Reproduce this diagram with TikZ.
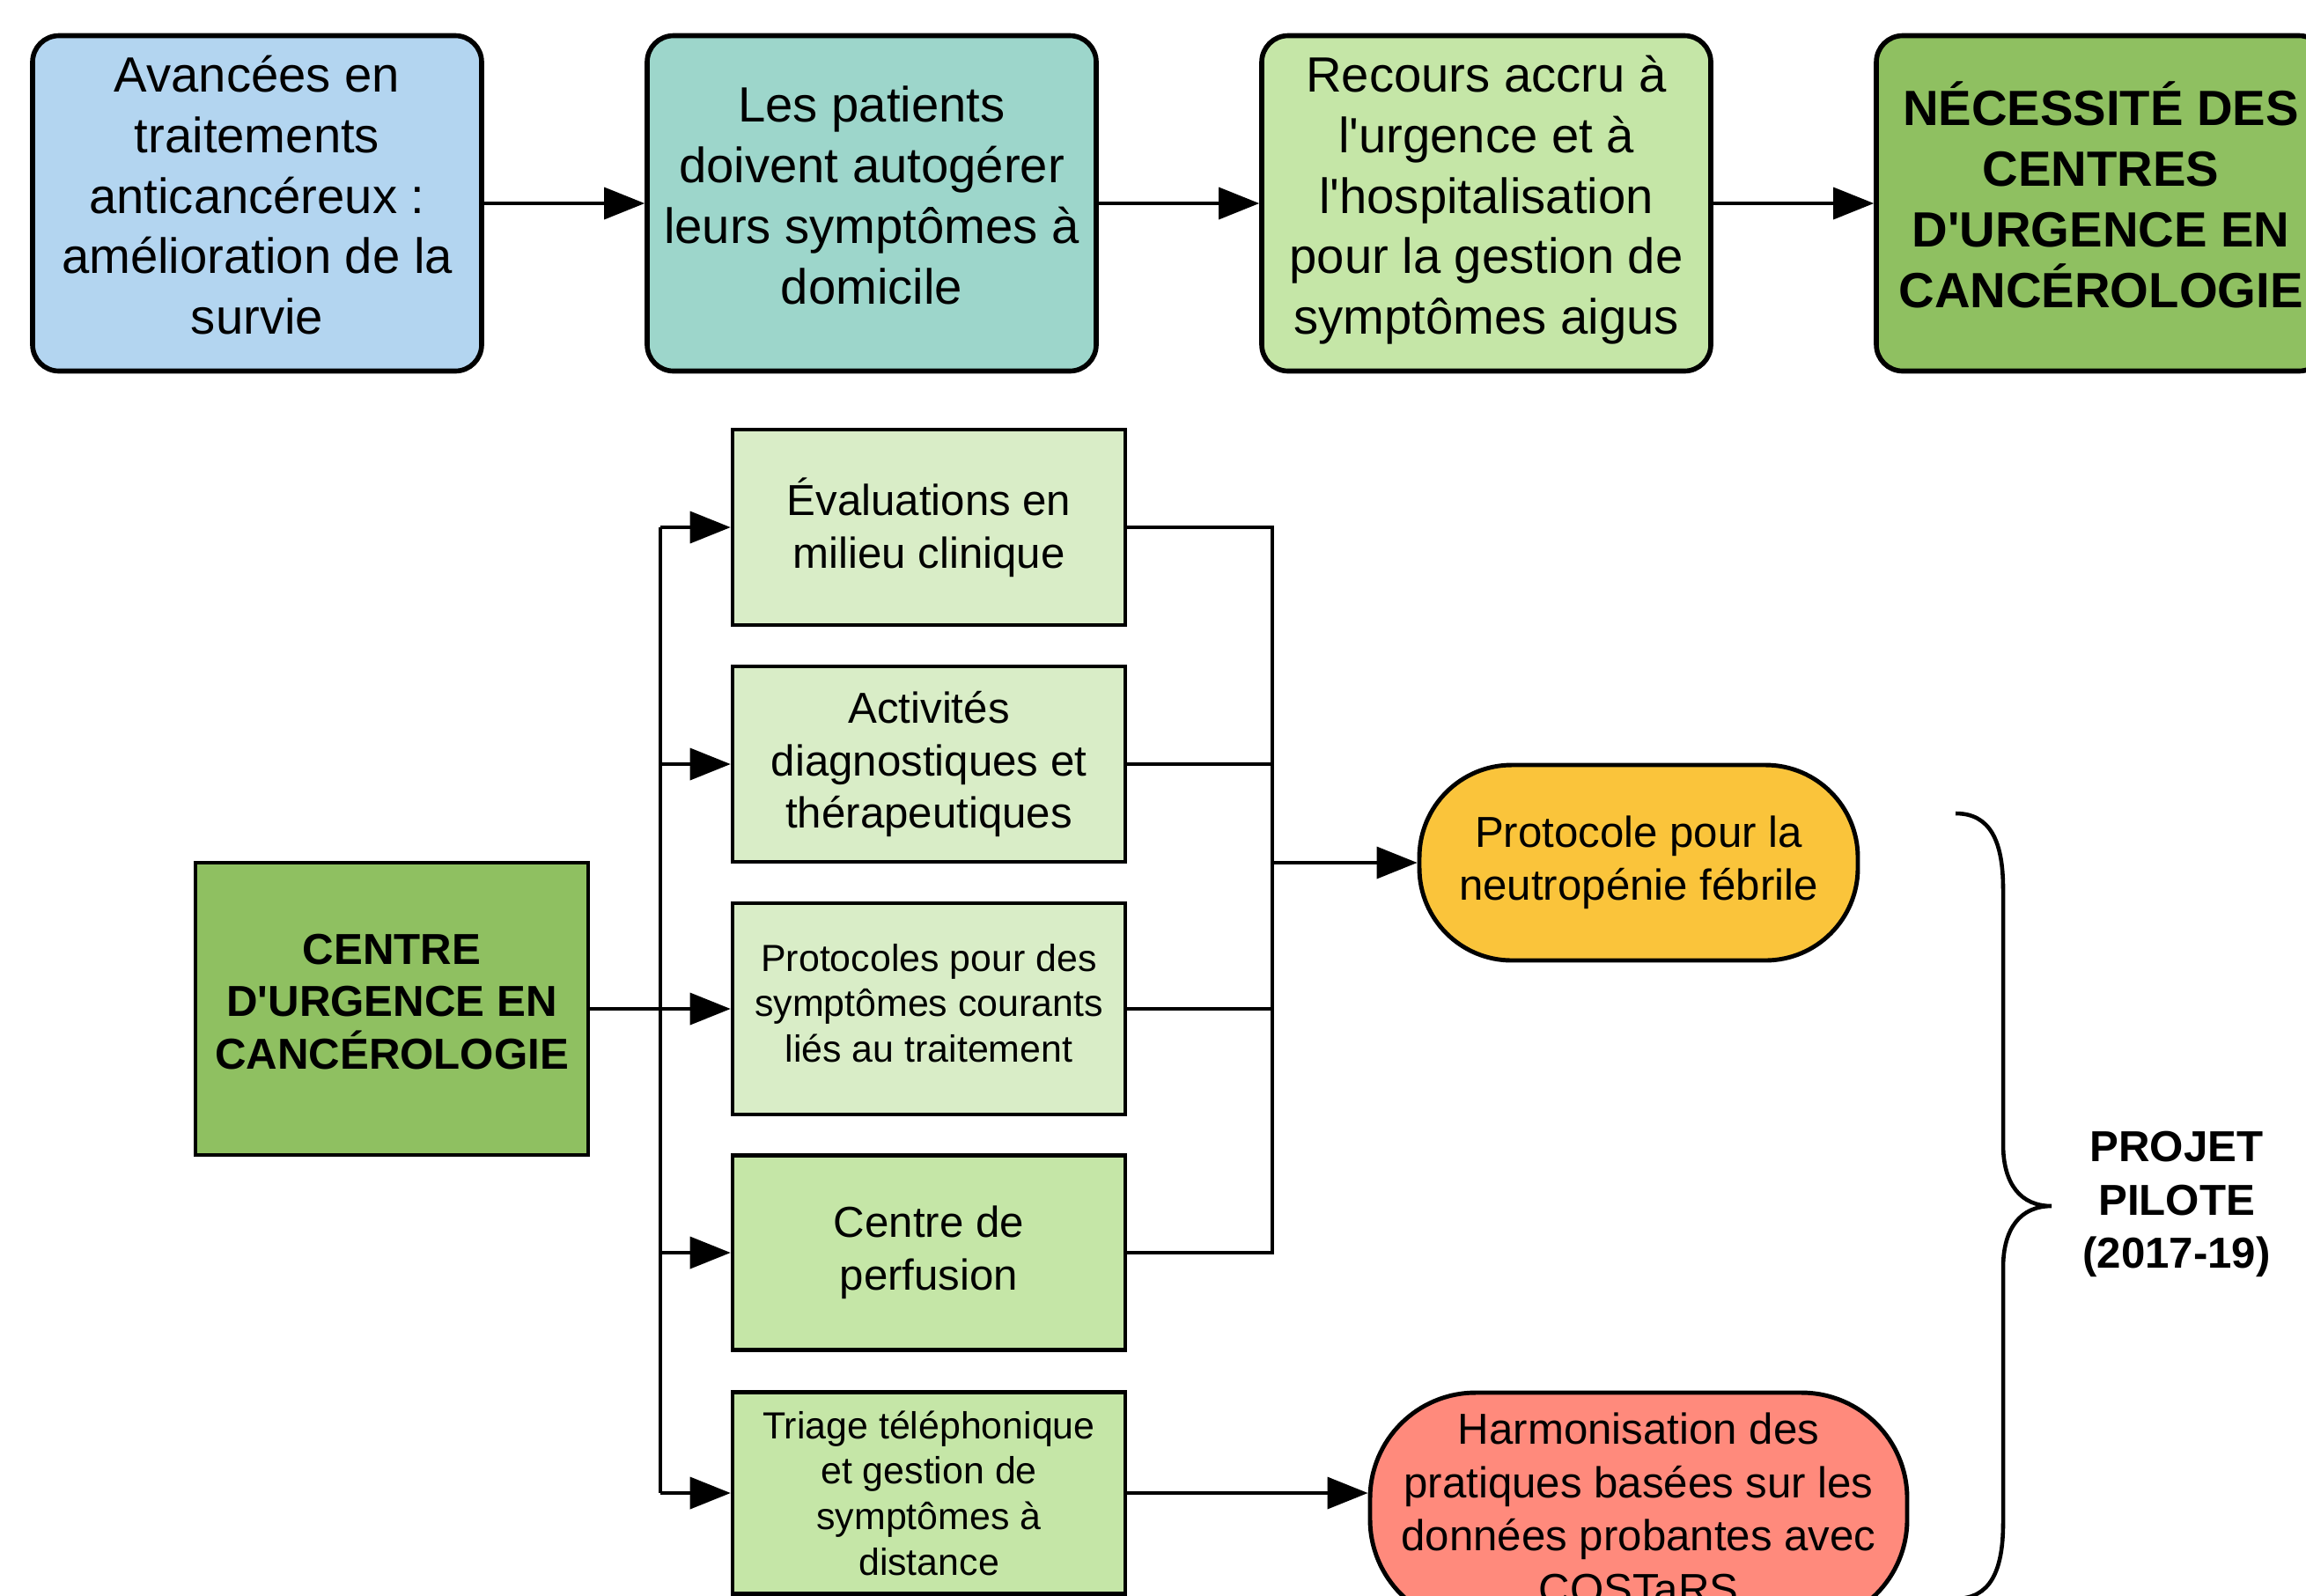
\documentclass[tikz,border=0pt]{standalone}
\usepackage{fontspec}
\setmainfont{Liberation Sans}
\usetikzlibrary{arrows.meta}
\definecolor{bleu}{HTML}{B3D5F0}
\definecolor{sarcelle}{HTML}{9DD6CB}
\definecolor{vertclair}{HTML}{C5E6A7}
\definecolor{vertpale}{HTML}{D9EDC7}
\definecolor{vertfonce}{HTML}{8FC061}
\definecolor{jaune}{HTML}{FAC43B}
\definecolor{saumon}{HTML}{FF8A7C}
\def\ap{\textquotesingle}

\begin{document}
\begin{tikzpicture}[
	etape/.style={draw, line width=1.6pt, rounded corners=0.3cm, minimum width=5.1cm, minimum height=3.81cm, inner sep=0pt, text depth=5.5pt, align=center, font=\fontsize{16}{19.6}\selectfont},
	volet/.style={draw, line width=1.3pt, minimum width=4.46cm, inner sep=0pt, align=center, font=\fontsize{14}{17}\selectfont},
	petit/.style={font=\fontsize{12.2}{14.7}\selectfont},
	issue/.style={draw, line width=1.4pt, inner sep=0pt, align=center, font=\fontsize{14}{17.2}\selectfont},
	lien/.style={line width=1pt},
	fleche/.style={line width=1pt, -{Triangle[length=0.46cm, width=0.36cm]}}
	]
			%%%%% START %%%%%
			
			\path[use as bounding box] (0, 0) rectangle (26.19, -18.12);
			\clip (0, 0) rectangle (26.19, -18.12);
			
			\node[etape, fill=bleu] (avancees) at (2.92, -2.31) {Avancées en\\traitements\\anticancéreux :\\amélioration de la\\survie};
			\node[etape, fill=sarcelle] (patients) at (9.90, -2.31) {Les patients\\doivent autogérer\\leurs symptômes à\\domicile};
			\node[etape, fill=vertclair] (recours) at (16.88, -2.31) {Recours accru à\\l\ap urgence et à\\l\ap hospitalisation\\pour la gestion de\\symptômes aigus};
			\node[etape, fill=vertfonce, font=\bfseries\fontsize{16}{19.6}\selectfont] (necessite) at (23.86, -2.31) {NÉCESSITÉ DES\\CENTRES\\D\ap URGENCE EN\\CANCÉROLOGIE};
			
			\draw[fleche] (avancees) -- (patients);
			\draw[fleche] (patients) -- (recours);
			\draw[fleche] (recours) -- (necessite);
			
			\node[volet, fill=vertfonce, minimum width=4.46cm, minimum height=3.32cm, text depth=4.8pt, font=\bfseries\fontsize{14}{17}\selectfont] (centre) at (4.45, -11.46) {CENTRE\\D\ap URGENCE EN\\CANCÉROLOGIE};
			
			\node[volet, fill=vertpale, minimum height=2.22cm] (evaluations) at (10.55, -5.99) {Évaluations en\\milieu clinique};
			\node[volet, fill=vertpale, minimum height=2.22cm] (activites) at (10.55, -8.68) {Activités\\diagnostiques et\\thérapeutiques};
			\node[volet, petit, fill=vertpale, minimum height=2.40cm, text depth=3.8pt] (protocoles) at (10.55, -11.46) {Protocoles pour des\\symptômes courants\\liés au traitement};
			\node[volet, fill=vertclair, minimum height=2.21cm] (perfusion) at (10.55, -14.23) {Centre de\\perfusion};
			\node[volet, petit, fill=vertclair, minimum height=2.29cm] (triage) at (10.55, -16.96) {Triage téléphonique\\et gestion de\\symptômes à\\distance};
			
			\node[issue, fill=jaune, minimum width=4.98cm, minimum height=2.22cm, rounded corners=1.05cm] (neutropenie) at (18.61, -9.80) {Protocole pour la\\neutropénie fébrile};
			\node[issue, fill=saumon, minimum width=6.10cm, minimum height=2.64cm, rounded corners=1.2cm] (costars) at (18.61, -17.14) {Harmonisation des\\pratiques basées sur les\\données probantes avec\\COSTaRS};
			
			\coordinate (tronc) at (7.50, 0);
			\coordinate (collecteur) at (14.45, 0);
			
			\draw[lien] (evaluations.west -| tronc) -- (triage.west -| tronc);
			\draw[fleche] (centre) -- (protocoles);
			\foreach \v in {evaluations, activites, perfusion, triage}
				\draw[fleche] (\v.west -| tronc) -- (\v.west);
			
			\draw[lien] (evaluations.east) -- (evaluations.east -| collecteur) -- (perfusion.east -| collecteur) -- (perfusion.east);
			\foreach \v in {activites, protocoles}
				\draw[lien] (\v.east) -- (\v.east -| collecteur);
			\draw[fleche] (neutropenie.west -| collecteur) -- (neutropenie);
			\draw[fleche] (triage) -- (triage -| costars.west);
			
			\draw[line width=1.3pt] (22.21, -9.24) .. controls (22.60, -9.24) and (22.75, -9.55) .. (22.75, -10.10) -- (22.75, -13.00) .. controls (22.75, -13.45) and (22.95, -13.70) .. (23.30, -13.70) .. controls (22.95, -13.70) and (22.75, -13.95) .. (22.75, -14.40) -- (22.75, -17.30) .. controls (22.75, -17.85) and (22.60, -18.16) .. (22.21, -18.16);
			\node[align=center, font=\bfseries\fontsize{14}{17.2}\selectfont] (pilote) at (24.72, -13.68) {PROJET\\PILOTE\\(2017-19)};
			
			%%%%% END %%%%%
\end{tikzpicture}
\end{document}
